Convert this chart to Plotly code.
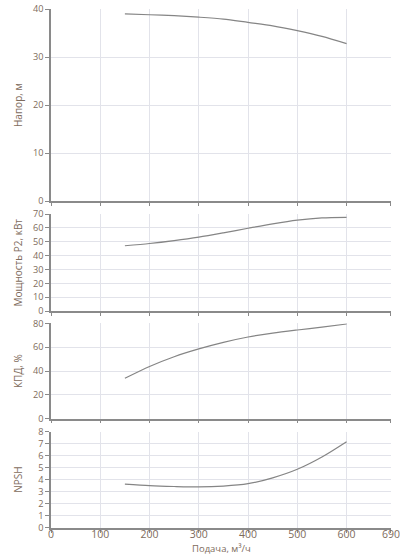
import plotly.graph_objects as go
from plotly.subplots import make_subplots

flow = [150, 200, 250, 300, 350, 400, 450, 500, 550, 600]
head = [39.0, 38.8, 38.6, 38.3, 37.9, 37.2, 36.5, 35.5, 34.3, 32.8]
power = [47.1, 48.7, 50.8, 53.3, 56.4, 59.7, 62.9, 65.6, 67.2, 67.6]
eff = [33.9, 43.8, 52.0, 58.5, 64.0, 68.5, 71.8, 74.4, 76.8, 79.4]
npsh = [3.64, 3.52, 3.45, 3.41, 3.48, 3.68, 4.17, 4.88, 5.9, 7.17]

x_ticks = [0, 100, 200, 300, 400, 500, 600, 690]
y_titles = ["Напор, м", "Мощность P2, кВт", "КПД, %", "NPSH"]
x_title = "Подача, м³/ч"
y_ranges = [(0, 40, 10), (0, 70, 10), (0, 80, 20), (0, 8, 1)]
series = [head, power, eff, npsh]

txt = "#7e6b5c"
grid = "#e2e3ea"
axis_c = "#8a8a8a"

fig = make_subplots(rows=4, cols=1, shared_xaxes=False)

domains = [(0.630, 1.0), (0.4181, 0.605), (0.2106, 0.3944), (0.0, 0.1855)]
W, H = 400, 555
ml, mr, mt, mb = 51, 9, 9, 27
ph = H - mt - mb

for i, (s, (lo, hi, dt)) in enumerate(zip(series, y_ranges)):
    fig.add_trace(go.Scatter(x=flow, y=s, mode="lines", line=dict(color="#858585", width=1.2, shape="spline", smoothing=0.8),
                             showlegend=False, hoverinfo="skip"), row=i + 1, col=1)
    xa = "xaxis" if i == 0 else f"xaxis{i+1}"
    ya = "yaxis" if i == 0 else f"yaxis{i+1}"
    fig.layout[xa].update(range=[0, 690.2], tickvals=x_ticks, ticktext=[str(v) for v in x_ticks],
                          showticklabels=(i == 3), ticklabeloverflow="allow", ticklabelstandoff=-7,
                          ticks="outside", ticklen=3, tickcolor=axis_c, showline=True, linecolor=axis_c,
                          linewidth=1.5, showgrid=True, gridcolor=grid, gridwidth=1, zeroline=False,
                          tickfont=dict(color=txt, size=10.5), fixedrange=True)
    fig.layout[ya].update(domain=list(domains[i]), range=[lo, hi], dtick=dt, tick0=0,
                          ticks="outside", ticklen=4, tickcolor=axis_c, showline=True, linecolor=axis_c,
                          linewidth=1.5, showgrid=True, gridcolor=grid, gridwidth=1, zeroline=False,
                          tickfont=dict(color=txt, size=9.2), fixedrange=True)
    d0, d1 = domains[i]
    fig.add_annotation(text=y_titles[i], xref="paper", yref="paper",
                       x=(18 - ml) / (W - ml - mr), y=(d0 + d1) / 2, xanchor="center", yanchor="middle",
                       textangle=-90, showarrow=False, font=dict(color=txt, size=10))

fig.add_annotation(text=x_title, xref="paper", yref="paper", x=0.5, y=(H - mb - 548.5) / ph,
                   xanchor="center", yanchor="middle", showarrow=False, font=dict(color=txt, size=9.5))

fig.update_layout(width=W, height=H, margin=dict(l=ml, r=mr, t=mt, b=mb, autoexpand=False),
                  paper_bgcolor="white", plot_bgcolor="white",
                  font=dict(family="Open Sans", color=txt, size=10.5))

fig.write_html("out.html")
